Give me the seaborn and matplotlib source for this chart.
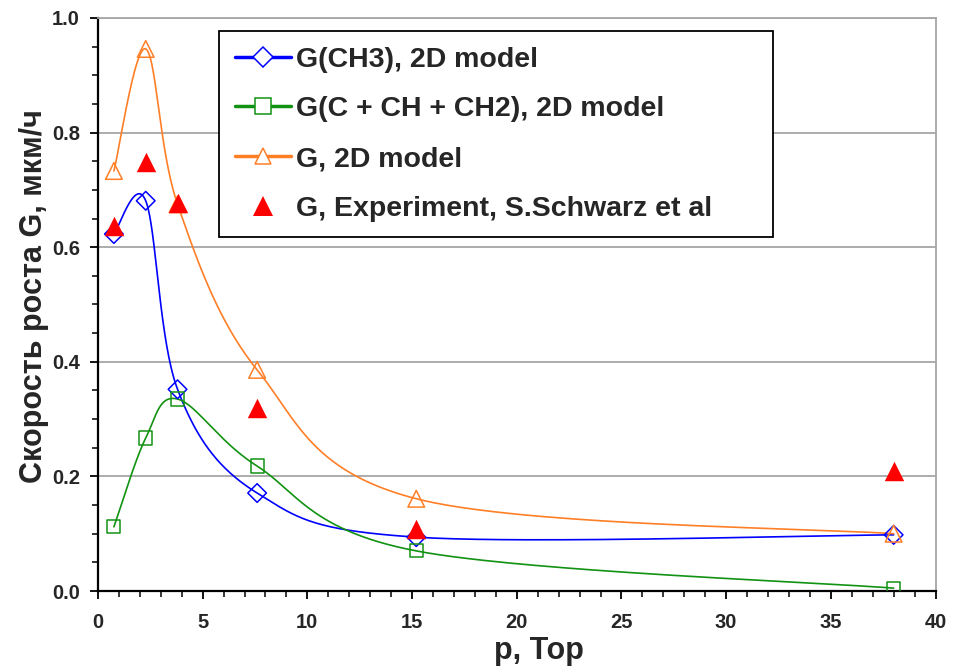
import numpy as np
import pandas as pd
import matplotlib
matplotlib.use("Agg")
import matplotlib.pyplot as plt
from matplotlib.lines import Line2D
from matplotlib.ticker import MultipleLocator, FormatStrFormatter
import seaborn as sns

# ---- data ----
pressure = [0.76, 2.28, 3.8, 7.6, 15.2, 38.0]
g_ch3 = [0.623, 0.681, 0.352, 0.171, 0.094, 0.098]
g_c_ch_ch2 = [0.112, 0.267, 0.335, 0.218, 0.070, 0.005]
g_model = [0.733, 0.946, 0.675, 0.386, 0.161, 0.100]
g_experiment = [0.637, 0.749, 0.677, 0.319, 0.108, 0.209]

labels = ["G(CH3), 2D model", "G(C + CH + CH2), 2D model", "G, 2D model",
          "G, Experiment, S.Schwarz et al"]
x_label = "p, Тор"
y_label = "Скорость роста G, мкм/ч"


def excel_smooth(xs, ys, n=60):
    """Catmull-Rom style Bezier smoothing (as Excel smoothed lines)."""
    P = np.column_stack([xs, ys]).astype(float)
    Pe = np.vstack([P[0], P, P[-1]])
    out = []
    for i in range(1, len(Pe) - 2):
        p0, p1, p2, p3 = Pe[i - 1], Pe[i], Pe[i + 1], Pe[i + 2]
        b1 = p1 + (p2 - p0) / 6.0
        b2 = p2 - (p3 - p1) / 6.0
        t = np.linspace(0, 1, n)[:, None]
        seg = ((1 - t) ** 3) * p1 + 3 * ((1 - t) ** 2) * t * b1 + 3 * (1 - t) * t ** 2 * b2 + t ** 3 * p2
        out.append(seg if i == 1 else seg[1:])
    s = np.vstack(out)
    return s[:, 0], s[:, 1]


sns.set_theme(style="white")
plt.rcParams["font.family"] = ["Liberation Sans", "DejaVu Sans"]
plt.rcParams["font.weight"] = "bold"

fig = plt.figure(figsize=(9.55, 6.66), dpi=100)
ax = fig.add_axes([0.1026, 0.1126, 0.9796 - 0.1026, 0.973 - 0.1126])

c_blue = "#0000ff"
c_green = "#129212"
c_orange = "#ff7f27"
c_red = "#ff0000"

series = [
    (g_ch3, c_blue, "D", 9.5),
    (g_c_ch_ch2, c_green, "s", 9.5),
    (g_model, c_orange, "^", 12),
]
for ys, col, mk, ms in series:
    sx, sy = excel_smooth(pressure, ys)
    sns.lineplot(x=sx, y=sy, ax=ax, color=col, lw=1.2, sort=False, estimator=None)

for ys, col, mk, ms in series:
    sns.scatterplot(x=pressure, y=ys, ax=ax, marker=mk, s=ms ** 2,
                    facecolor="none", edgecolor=col, linewidth=1.1, zorder=4)

sns.scatterplot(x=pressure, y=g_experiment, ax=ax, marker="^", s=14 ** 2,
                color=c_red, edgecolor=c_red, linewidth=0, zorder=5)

ax.set_xlim(0, 40)
ax.set_ylim(0, 1.0)
ax.xaxis.set_major_locator(MultipleLocator(5))
ax.xaxis.set_minor_locator(MultipleLocator(1))
ax.yaxis.set_major_locator(MultipleLocator(0.2))
ax.yaxis.set_minor_locator(MultipleLocator(0.05))
ax.yaxis.set_major_formatter(FormatStrFormatter("%.1f"))
ax.grid(True, which="major", axis="y", color="#a6a6a6", lw=1.3)
ax.set_axisbelow(True)

ax.tick_params(axis="both", which="major", direction="out", length=6, width=1.3,
               color="black", labelsize=14.5, left=True, bottom=True)
ax.tick_params(axis="both", which="minor", direction="out", length=4, width=1.1,
               color="black", left=True, bottom=True)
ax.tick_params(axis="y", which="major", pad=7)
ax.tick_params(axis="x", which="major", pad=10)
for lab in ax.get_xticklabels() + ax.get_yticklabels():
    lab.set_fontweight("bold")

for side in ["left", "bottom"]:
    ax.spines[side].set_color("black")
    ax.spines[side].set_linewidth(1.6)
for side in ["top", "right"]:
    ax.spines[side].set_color("#a6a6a6")
    ax.spines[side].set_linewidth(1.3)

ax.set_xlabel(x_label, fontsize=22, fontweight="bold", labelpad=3)
ax.xaxis.label.set_x(0.526)
ax.set_ylabel(y_label, fontsize=22, fontweight="bold", labelpad=2)
ax.yaxis.label.set_y(0.515)

handles = [
    Line2D([], [], color=c_blue, lw=2.5, marker="D", ms=10, mfc="white", mec=c_blue, mew=1.1),
    Line2D([], [], color=c_green, lw=2.5, marker="s", ms=11, mfc="white", mec=c_green, mew=1.1),
    Line2D([], [], color=c_orange, lw=2.5, marker="^", ms=12, mfc="white", mec=c_orange, mew=1.1),
    Line2D([], [], color="none", marker="^", ms=15, mfc=c_red, mec=c_red, mew=0),
]
leg = ax.legend(handles, labels, loc="upper left",
                bbox_to_anchor=(0.145, 0.0, 0.661, 0.977), mode="expand",
                frameon=True, fancybox=False, framealpha=1, edgecolor="black",
                prop={"weight": "bold", "size": 20.5}, handlelength=1.95,
                handletextpad=0.2, labelspacing=0.83, borderpad=0.55,
                borderaxespad=0)
leg.get_frame().set_linewidth(1.3)

fig.savefig("out.png", dpi=100)
